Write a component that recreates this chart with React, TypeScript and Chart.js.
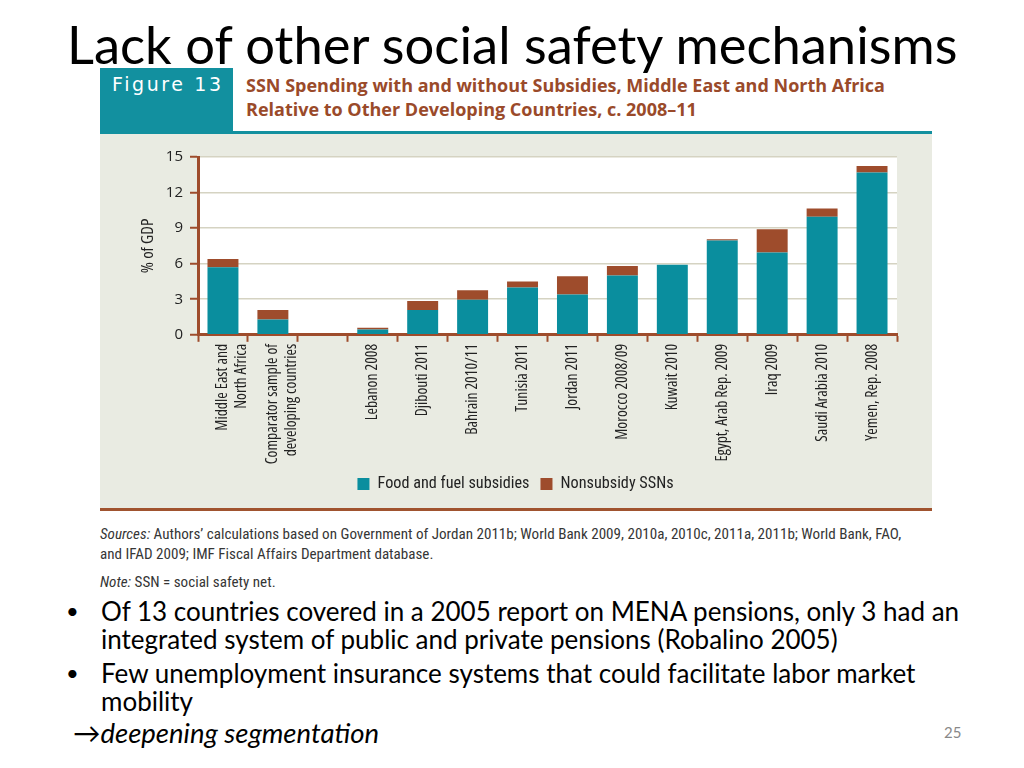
import React, { useEffect, useRef } from "react";
import { Chart, registerables } from "chart.js";

Chart.register(...registerables);

const categories: (string | string[])[] = [
  ["Middle East and", "North Africa"],
  ["Comparator sample of", "developing countries"],
  "",
  "Lebanon 2008",
  "Djibouti 2011",
  "Bahrain 2010/11",
  "Tunisia 2011",
  "Jordan 2011",
  "Morocco 2008/09",
  "Kuwait 2010",
  "Egypt, Arab Rep. 2009",
  "Iraq 2009",
  "Saudi Arabia 2010",
  "Yemen, Rep. 2008",
];
const foodFuelSubsidies = [5.7, 1.3, null, 0.45, 2.1, 2.95, 4.0, 3.4, 5.0, 5.9, 7.95, 6.95, 9.95, 13.7];
const nonsubsidySSNs = [0.7, 0.8, null, 0.15, 0.75, 0.8, 0.5, 1.55, 0.8, 0, 0.12, 1.95, 0.7, 0.55];
const yTicks = [0, 3, 6, 9, 12, 15];

const TEAL = "#0a8e9e";
const BROWN = "#9e4c2c";
const BG = "#e9ebe2";
const OPEN = "'Open Sans', sans-serif";
const ROBOTO = "Roboto, sans-serif";

const bgPlugin = {
  id: "bgPlugin",
  beforeDraw(chart: any) {
    const { ctx, chartArea } = chart;
    ctx.save();
    ctx.fillStyle = BG;
    ctx.fillRect(0, 0, chart.width, chart.height);
    ctx.fillStyle = "#ffffff";
    ctx.fillRect(chartArea.left, chartArea.top, chartArea.right - chartArea.left, chartArea.bottom - chartArea.top);
    ctx.restore();
  },
};

export default function App() {
  const ref = useRef<HTMLCanvasElement | null>(null);

  useEffect(() => {
    if (!ref.current) return;
    const chart = new Chart(ref.current, {
      type: "bar",
      data: {
        labels: categories,
        datasets: [
          {
            label: "Food and fuel subsidies",
            data: foodFuelSubsidies,
            backgroundColor: TEAL,
            categoryPercentage: 1,
            barPercentage: 0.62,
          },
          {
            label: "Nonsubsidy SSNs",
            data: nonsubsidySSNs,
            backgroundColor: BROWN,
            categoryPercentage: 1,
            barPercentage: 0.62,
          },
        ],
      },
      options: {
        animation: false,
        responsive: false,
        maintainAspectRatio: false,
        layout: { padding: { top: 23, right: 35, left: 34, bottom: 7 } },
        plugins: {
          legend: {
            position: "bottom",
            labels: {
              boxWidth: 12,
              boxHeight: 12,
              padding: 11,
              color: "#222",
              font: { family: ROBOTO, size: 16.2, weight: "condensed" as any },
            },
          },
          tooltip: { enabled: false },
        },
        scales: {
          x: {
            stacked: true,
            afterFit(scale: any) {
              scale.height = 130;
            },
            grid: {
              drawOnChartArea: false,
              tickLength: 7,
              tickColor: BROWN,
              tickWidth: 2,
              offset: true,
            },
            border: { color: BROWN, width: 3 },
            ticks: {
              autoSkip: false,
              maxRotation: 90,
              minRotation: 90,
              color: "#222",
              padding: 2,
              font: { family: OPEN, size: 15.7, weight: "condensed" as any, lineHeight: 1.2 },
            },
          },
          y: {
            stacked: true,
            min: 0,
            max: 15,
            afterFit(scale: any) {
              scale.width = 64;
            },
            afterBuildTicks(scale: any) {
              scale.ticks = yTicks.map((v) => ({ value: v }));
            },
            grid: {
              color: "#d5d3c2",
              lineWidth: 1.5,
              tickLength: 8,
              tickColor: BROWN,
              tickWidth: 2,
            },
            border: { color: BROWN, width: 3 },
            ticks: {
              color: "#222",
              padding: 7,
              font: { family: OPEN, size: 15, weight: "normal" },
            },
            title: {
              display: true,
              text: "% of GDP",
              color: "#222",
              padding: 4,
              font: { family: OPEN, size: 17, weight: "condensed" as any },
            },
          },
        },
      },
      plugins: [bgPlugin],
    });
    return () => chart.destroy();
  }, []);

  const body = "Lato, 'Open Sans', sans-serif";
  const note = { fontFamily: ROBOTO, fontStretch: "condensed", fontSize: 15.1, color: "#363636", lineHeight: "20px", whiteSpace: "nowrap" as const };

  return (
    <div style={{ position: "fixed", left: 0, top: 0, width: 1024, height: 768, background: "#fff", overflow: "hidden" }}>
      <div style={{ position: "absolute", left: 67, top: 14, fontFamily: body, fontSize: 52.5, color: "#000", whiteSpace: "nowrap", lineHeight: "60px" }}>
        Lack of other social safety mechanisms
      </div>
      <div style={{ position: "absolute", left: 100, top: 68, width: 133, height: 64, background: "#12909f" }}>
        <div style={{ position: "absolute", left: 12, top: 5, color: "#fff", fontFamily: "'DejaVu Sans', sans-serif", fontSize: 19, letterSpacing: 2.6, whiteSpace: "nowrap" }}>Figure 13</div>
      </div>
      <div style={{ position: "absolute", left: 246, top: 73, fontFamily: OPEN, fontWeight: 700, fontSize: 18, color: "#9a4a2a", lineHeight: "24px", whiteSpace: "nowrap" }}>
        SSN Spending with and without Subsidies, Middle East and North Africa
        <br />
        Relative to Other Developing Countries, c. 2008–11
      </div>
      <div style={{ position: "absolute", left: 100, top: 131, width: 832, height: 3, background: "#12909f" }} />
      <canvas ref={ref} width={832} height={375} style={{ position: "absolute", left: 100, top: 134, width: 832, height: 375 }} />
      <div style={{ position: "absolute", left: 100, top: 508, width: 832, height: 3, background: "#a0532f" }} />
      <div style={{ position: "absolute", left: 100, top: 524, ...note }}>
        <i>Sources:</i> Authors’ calculations based on Government of Jordan 2011b; World Bank 2009, 2010a, 2010c, 2011a, 2011b; World Bank, FAO,
        <br />
        and IFAD 2009; IMF Fiscal Affairs Department database.
      </div>
      <div style={{ position: "absolute", left: 100, top: 572, ...note }}>
        <i>Note:</i> SSN = social safety net.
      </div>
      <div style={{ position: "absolute", left: 0, top: 597, width: 1024, fontFamily: body, fontSize: 26, color: "#000", lineHeight: "28px" }}>
        <div style={{ position: "absolute", left: 66, top: 0, fontSize: 22 }}>•</div>
        <div style={{ position: "absolute", left: 101, top: 0, whiteSpace: "nowrap" }}>
          Of 13 countries covered in a 2005 report on MENA pensions, only 3 had an
          <br />
          integrated system of public and private pensions (Robalino 2005)
        </div>
        <div style={{ position: "absolute", left: 66, top: 62, fontSize: 22 }}>•</div>
        <div style={{ position: "absolute", left: 101, top: 62, whiteSpace: "nowrap" }}>
          Few unemployment insurance systems that could facilitate labor market
          <br />
          mobility
        </div>
        <div style={{ position: "absolute", left: 73, top: 122, fontStyle: "italic", fontSize: 27.5, whiteSpace: "nowrap" }}>→deepening segmentation</div>
      </div>
      <div style={{ position: "absolute", left: 944, top: 723, fontFamily: body, fontSize: 15, color: "#888" }}>25</div>
    </div>
  );
}
